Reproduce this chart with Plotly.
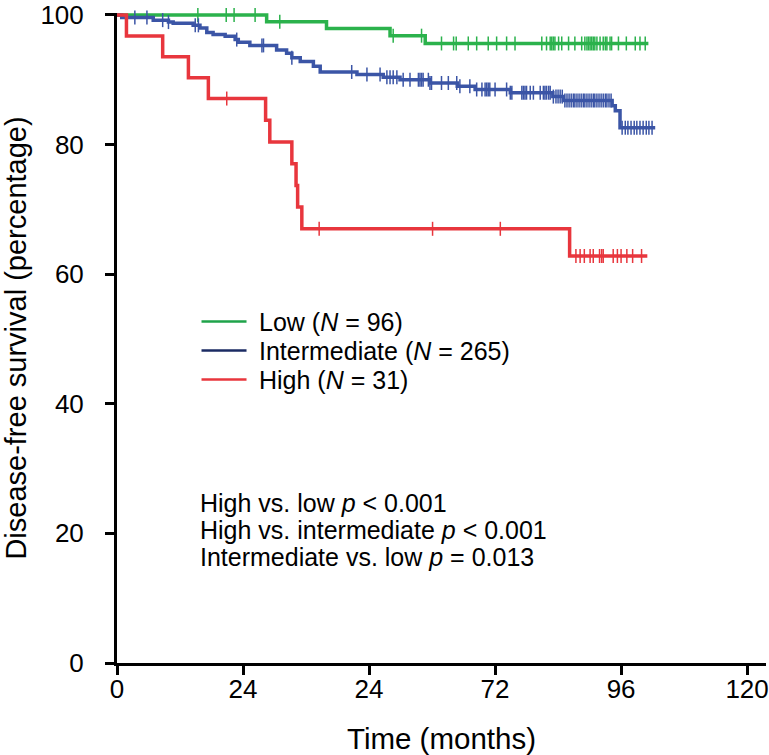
import numpy as np
import plotly.graph_objects as go

# ---------------- data ----------------
tick_vals_x = [0, 24, 48, 72, 96, 120]
tick_text_x = ["0", "24", "24", "72", "96", "120"]
tick_vals_y = [0, 20, 40, 60, 80, 100]

# Low risk group
low_event_t = [28.5, 39.9, 52.0, 58.7]
low_surv = [98.96, 97.9, 96.8, 95.6]
low_end = 101.2
low_censor = [15.4, 20.8, 22.3, 26.3, 31.0, 52.6, 58.0, 61.8, 64.1, 64.6, 66.9, 68.5,
              70.7, 72.3, 74.2, 75.8, 80.9, 81.8, 82.5, 82.8, 83.1, 83.4, 84.1, 84.7,
              86.0, 87.2, 88.5, 89.1, 89.5, 89.8, 90.1, 90.4, 90.7, 91.0, 91.4, 92.0,
              92.6, 93.0, 93.3, 93.9, 94.2, 95.5, 97.0, 98.7, 99.6, 100.6]

# Intermediate risk group
mid_event_t = [0.9, 6.9, 9.8, 10.7, 14.5, 15.8, 17.1, 18.3, 20.6, 22.5, 23.1, 25.3,
               30.4, 32.3, 33.3, 34.9, 37.4, 38.7, 45.7, 50.7, 53.9, 59.6, 64.8, 68.2,
               74.9, 83.0, 85.0, 94.3, 94.9, 95.8]
mid_surv = [99.6, 99.2, 98.9, 98.7, 98.4, 98.0, 97.3, 97.0, 96.7, 96.2, 95.8, 95.3,
            94.6, 94.1, 93.4, 92.8, 92.1, 91.2, 90.8, 90.4, 90.0, 89.5, 89.0, 88.5,
            88.0, 87.4, 86.8, 86.0, 85.2, 82.6]
mid_end = 102.5
mid_censor = [3.4, 5.7, 8.7, 9.8, 14.9, 15.5, 22.8, 27.6, 27.9, 33.3, 44.7, 47.6, 50.1,
              51.4, 52.0, 52.6, 53.3, 54.5, 55.8, 57.4, 57.7, 58.0, 58.3, 59.3, 59.6,
              59.9, 61.8, 63.1, 64.7, 65.3, 67.2, 68.5, 69.5, 70.1, 70.4, 70.7, 71.0,
              72.0, 74.2, 74.9, 75.2, 77.1, 77.4, 77.7, 78.0, 78.7, 79.3, 80.6, 81.2,
              81.5, 81.8, 82.2, 82.5, 83.1, 83.6, 84.0, 84.4, 84.8, 85.3, 85.7, 86.1,
              86.5, 86.9, 87.2, 87.6, 88.0, 88.4, 88.8, 89.1, 89.5, 89.9, 90.3, 90.7,
              91.0, 91.4, 91.8, 92.2, 92.6, 93.0, 93.3, 93.7, 94.1, 96.2, 96.8, 97.3,
              97.9, 98.5, 99.0, 99.6, 100.2, 100.8, 101.3, 101.9]

# High risk group
high_event_t = [1.8, 8.7, 13.6, 17.4, 28.3, 29.1, 33.3, 34.1, 34.4, 35.2, 86.2]
high_surv = [96.77, 93.55, 90.32, 87.10, 83.75, 80.40, 77.05, 73.70, 70.35, 67.00, 62.8]
high_end = 101.0
high_censor = [20.9, 38.5, 60.1, 73.0, 87.4, 88.2, 89.0, 90.1, 90.7, 91.9, 92.3, 92.6,
               94.5, 95.3, 96.0, 97.1, 98.2, 99.9]

groups = [
    ("Low", 96, low_event_t, low_surv, low_end, low_censor, "#2bb24c", "#1fa34a"),
    ("Intermediate", 265, mid_event_t, mid_surv, mid_end, mid_censor, "#3b55a6", "#1b2b63"),
    ("High", 31, high_event_t, high_surv, high_end, high_censor, "#e8363d", "#e8363d"),
]

FONT = "Liberation Sans, Arial, Helvetica, sans-serif"

fig = go.Figure()

for name, n, ev_t, surv, end, cens, col, _ in groups:
    xs = [0] + ev_t + [end]
    ys = [100] + surv + [surv[-1]]
    fig.add_trace(go.Scatter(x=xs, y=ys, mode="lines", line=dict(color=col, width=3.5, shape="hv"),
                             showlegend=False, hoverinfo="skip"))
    levels = np.array([100] + surv)
    idx = np.searchsorted(np.array(ev_t), np.array(cens), side="right")
    cy = levels[idx]
    fig.add_trace(go.Scatter(x=cens, y=cy, mode="markers",
                             marker=dict(symbol="line-ns-open", size=10, color=col,
                                         line=dict(color=col, width=1.5)),
                             showlegend=False, hoverinfo="skip", cliponaxis=False))

# pixel helpers for layout (plot area: x0=117px, 5.25 px / month; y0=663px, 6.48 px / %)
def px_to_x(px):
    return (px - 117) / 5.25

def py_to_y(py):
    return (663 - py) / 6.48

# manual legend
leg_rows = [321.5, 350.5, 379.5]
for (name, n, *_rest), ly in zip(groups, leg_rows):
    lcol = _rest[-1]
    fig.add_shape(type="line", xref="x", yref="y",
                  x0=px_to_x(201.5), x1=px_to_x(246.5), y0=py_to_y(ly), y1=py_to_y(ly),
                  line=dict(color=lcol, width=2.5))
    fig.add_annotation(x=px_to_x(257), y=py_to_y(ly + 1), xref="x", yref="y",
                       text=f"{name} (<i>N</i> = {n})", showarrow=False,
                       xanchor="left", yanchor="middle",
                       font=dict(family=FONT, size=25, color="black"))

p_lines = ["High vs. low <i>p</i> &lt; 0.001",
           "High vs. intermediate <i>p</i> &lt; 0.001",
           "Intermediate vs. low <i>p</i> = 0.013"]
for txt, ly in zip(p_lines, [503, 530, 557]):
    fig.add_annotation(x=px_to_x(198), y=py_to_y(ly), xref="x", yref="y",
                       text=txt, showarrow=False, xanchor="left", yanchor="middle",
                       font=dict(family=FONT, size=25, color="black"))

fig.update_layout(
    width=769, height=755,
    margin=dict(l=117, r=3, t=13, b=92),
    paper_bgcolor="white", plot_bgcolor="white",
    font=dict(family=FONT, size=25, color="black"),
    xaxis=dict(range=[0, 123.6], tickvals=tick_vals_x, ticktext=tick_text_x,
               automargin=False, ticklabeloverflow="allow",
               showline=True, linewidth=3, linecolor="black", mirror=False,
               ticks="outside", ticklen=9, tickwidth=2.5, tickcolor="black",
               showgrid=False, zeroline=False, ticklabelstandoff=-8,
               tickfont=dict(family=FONT, size=26),
               title=dict(text="Time (months)", font=dict(family=FONT, size=29.5), standoff=27)),
    yaxis=dict(range=[0, 100.3], tickvals=tick_vals_y,
               automargin=False, ticklabeloverflow="allow",
               showline=True, linewidth=3, linecolor="black",
               ticks="outside", ticklen=9, tickwidth=2.5, tickcolor="black",
               showgrid=False, zeroline=False, ticklabelstandoff=16,
               tickfont=dict(family=FONT, size=26),
               title=dict(text="Disease-free survival (percentage)", font=dict(family=FONT, size=29),
                          standoff=15)),
)

fig.write_html("out.html", config={"displayModeBar": False},
               post_script="document.body.style.margin='0';document.body.style.overflow='hidden';")
